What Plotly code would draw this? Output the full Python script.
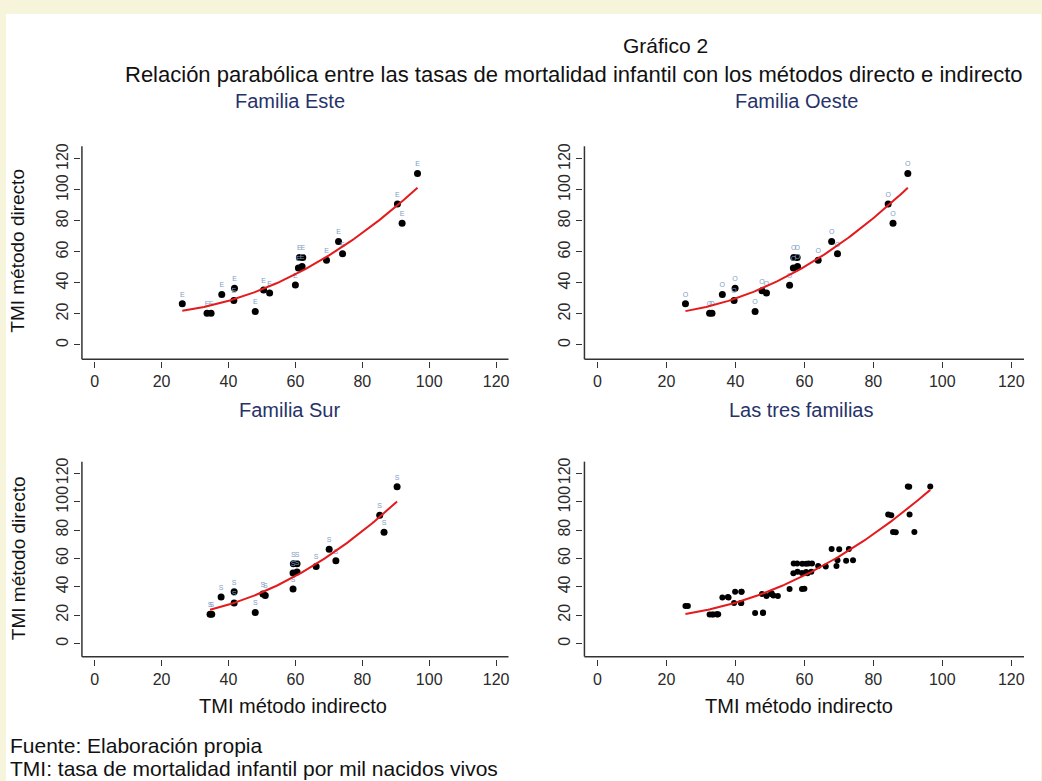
import numpy as np
import plotly.graph_objects as go

# TMI: indirect method (x) vs direct method (y), per family of model life tables
este_ind = [26.2, 33.6, 34.8, 38.0, 41.8, 41.6, 48.0, 50.5, 52.3, 60.0,
            60.9, 62.0, 61.2, 62.2, 69.3, 72.9, 74.1, 90.5, 91.9, 96.5]
este_dir = [26.5, 20.5, 20.5, 32.5, 36.5, 28.6, 21.6, 35.5, 33.5, 38.7,
            49.6, 50.6, 56.4, 56.4, 54.7, 66.7, 58.8, 91.0, 78.6, 110.7]

oeste_ind = [25.5, 32.5, 33.2, 36.2, 39.9, 39.6, 45.7, 47.7, 49.0, 55.7,
             56.8, 58.0, 56.9, 57.9, 64.0, 67.9, 69.6, 84.3, 85.7, 90.0]
oeste_dir = [26.5, 20.5, 20.5, 32.5, 36.5, 28.6, 21.6, 35.0, 33.5, 38.5,
             49.6, 50.6, 56.4, 56.4, 54.7, 66.7, 58.8, 91.0, 78.6, 110.7]

sur_ind = [34.5, 35.0, 37.8, 41.7, 41.7, 48.0, 50.3, 51.0, 59.3, 59.3,
           60.5, 59.4, 60.5, 66.2, 70.1, 72.1, 85.2, 86.5, 90.4]
sur_dir = [20.7, 20.7, 32.8, 36.6, 28.6, 21.9, 35.0, 33.9, 38.5, 49.7,
           50.4, 56.3, 56.3, 54.4, 66.5, 58.4, 90.4, 78.5, 110.5]

panel_titles = ["Familia Este", "Familia Oeste", "Familia Sur", "Las tres familias"]
point_labels = ["E", "O", "S", None]
tick_vals = [0, 20, 40, 60, 80, 100, 120]

W, H = 1042, 781
FONT = "Liberation Sans"


def fx(px):
    return px / W


def fy(py):
    return 1 - py / H


# panel boxes in pixels: (left, right, top, bottom)
boxes = [(82, 509, 143, 357), (585, 1025, 143, 357),
         (82, 509, 460, 656), (585, 1025, 460, 656)]

all_ind = este_ind + oeste_ind + sur_ind
all_dir = este_dir + oeste_dir + sur_dir
panels = [(este_ind, este_dir), (oeste_ind, oeste_dir), (sur_ind, sur_dir), (all_ind, all_dir)]

fig = go.Figure()
layout_axes = {}
shapes = [dict(type="rect", xref="paper", yref="paper", x0=fx(6), x1=1, y0=0, y1=fy(10),
               fillcolor="white", line=dict(width=0), layer="below")]
annotations = []

AX = "#333333"
for i, ((xs, ys), (l, r, t, b)) in enumerate(zip(panels, boxes)):
    n = "" if i == 0 else str(i + 1)
    xa, ya = "x" + n, "y" + n
    xs_a, ys_a = np.array(xs), np.array(ys)

    lab = point_labels[i]
    fig.add_trace(go.Scatter(
        x=xs, y=ys, xaxis=xa, yaxis=ya,
        mode="markers+text" if lab else "markers",
        text=[lab] * len(xs) if lab else None,
        textposition="top center",
        textfont=dict(size=7, color="#7d9dc4", family=FONT),
        marker=dict(color="black", size=7 if lab else 6),
        showlegend=False, hoverinfo="x+y"))

    # quadratic least-squares fit
    coef = np.polyfit(xs_a, ys_a, 2)
    xf = np.linspace(xs_a.min(), xs_a.max(), 120)
    fig.add_trace(go.Scatter(
        x=xf, y=np.polyval(coef, xf), xaxis=xa, yaxis=ya, mode="lines",
        line=dict(color="#e41a1c", width=2), showlegend=False, hoverinfo="skip"))

    common = dict(tickvals=tick_vals, ticks="outside", ticklen=6,
                  tickwidth=1.3, tickcolor=AX, showgrid=False, zeroline=False,
                  showline=False, tickfont=dict(size=16, color="#2a2a2a", family=FONT),
                  anchor="free")
    xcfg = dict(common)
    xcfg.update(range=[-3.8, 123.7], domain=[fx(l), fx(r)], position=fy(b + 2))
    ycfg = dict(common)
    ycfg.update(range=[-9.2, 128.2], domain=[fy(b), fy(t)], position=fx(l - 2),
                tickangle=-90)
    layout_axes["xaxis" + n] = xcfg
    layout_axes["yaxis" + n] = ycfg

    # L-shaped frame
    shapes.append(dict(type="line", xref="paper", yref="paper", x0=fx(l), x1=fx(l),
                       y0=fy(b), y1=fy(t), line=dict(color=AX, width=1.5)))
    shapes.append(dict(type="line", xref="paper", yref="paper", x0=fx(l), x1=fx(r),
                       y0=fy(b), y1=fy(b), line=dict(color=AX, width=1.5)))

title_pos = [(290, 97), (797, 97), (290, 408), (802, 408)]
for txt, (px, py) in zip(panel_titles, title_pos):
    annotations.append(dict(text=txt, x=fx(px), y=fy(py), xref="paper", yref="paper",
                            showarrow=False, xanchor="center", yanchor="middle",
                            font=dict(size=20, color="#26336a", family=FONT)))

for py in (248, 557):
    annotations.append(dict(text="TMI método directo", x=fx(18), y=fy(py), xref="paper",
                            yref="paper", showarrow=False, textangle=-90,
                            xanchor="center", yanchor="middle",
                            font=dict(size=19, color="#111111", family=FONT)))
for px in (293, 800):
    annotations.append(dict(text="TMI método indirecto", x=fx(px), y=fy(706), xref="paper",
                            yref="paper", showarrow=False, xanchor="center", yanchor="middle",
                            font=dict(size=20, color="#111111", family=FONT)))

annotations.append(dict(text="Gráfico 2", x=fx(666), y=fy(42), xref="paper", yref="paper",
                        showarrow=False, xanchor="center", yanchor="middle",
                        font=dict(size=21, color="#111111", family=FONT)))
annotations.append(dict(text="Relación parabólica entre las tasas de mortalidad infantil "
                             "con los métodos directo e indirecto",
                        x=fx(575), y=fy(71), xref="paper", yref="paper", showarrow=False,
                        xanchor="center", yanchor="middle",
                        font=dict(size=22, color="#111111", family=FONT)))
for txt, py in (("Fuente: Elaboración propia", 745),
                ("TMI: tasa de mortalidad infantil por mil nacidos vivos", 768)):
    annotations.append(dict(text=txt, x=fx(8), y=fy(py), xref="paper", yref="paper",
                            showarrow=False, xanchor="left", yanchor="middle",
                            font=dict(size=21, color="#111111", family=FONT)))

fig.update_layout(
    width=W, height=H, margin=dict(l=0, r=0, t=0, b=0),
    paper_bgcolor="#f7f4dc", plot_bgcolor="rgba(0,0,0,0)",
    shapes=shapes, annotations=annotations, **layout_axes)

fig.write_html("out.html")
